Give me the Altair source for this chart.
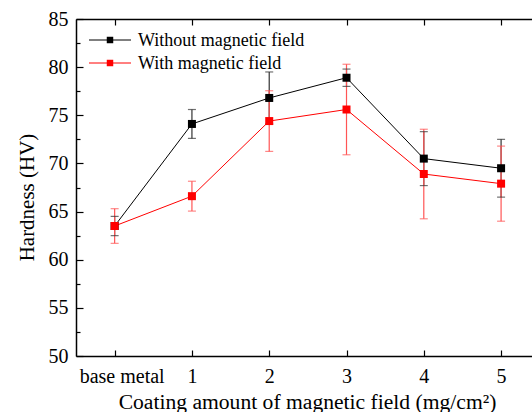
import altair as alt
import pandas as pd

categories = [0, 1, 2, 3, 4, 5]
tick_labels = ["base metal", "1", "2", "3", "4", "5"]
series_names = ["Without magnetic field", "With magnetic field"]
without_vals = [63.5, 74.1, 76.8, 78.9, 70.5, 69.5]
without_err = [1.0, 1.5, 2.7, 0.9, 2.8, 3.0]
with_vals = [63.5, 66.6, 74.4, 75.6, 68.9, 67.9]
with_err = [1.8, 1.55, 3.15, 4.7, 4.65, 3.9]
colors = ["#000000", "#ff0000"]
err_colors = ["#333333", "#ff5555"]

rows = []
for name, vals, errs, ec in [(series_names[0], without_vals, without_err, err_colors[0]),
                             (series_names[1], with_vals, with_err, err_colors[1])]:
    for c, v, e in zip(categories, vals, errs):
        rows.append({"x": c, "y": v, "lo": v - e, "hi": v + e, "series": name, "ecol": ec})
df = pd.DataFrame(rows)
legend_df = pd.DataFrame({"series": series_names})

W, H = 456, 337
FONT = "Liberation Serif"

xscale = alt.Scale(domain=[-0.5, 5.4], nice=False, zero=False)
yscale = alt.Scale(domain=[50, 85], nice=False, zero=False)
cscale = alt.Scale(domain=series_names, range=colors)

label_expr = "[" + ",".join("'" + t + "'" for t in tick_labels) + "][datum.value]"

x_main = alt.X("x:Q", scale=xscale, axis=alt.Axis(
    values=categories, labelExpr=label_expr, ticks=False, labelPadding=10,
    labelOffset={"condition": {"test": "datum.value === 0", "value": 7}, "value": 0},
    domainColor="black", domainWidth=1.5, labelFontSize=20, labelColor="black",
    labelFont=FONT, grid=False,
    title="Coating amount of magnetic field (mg/cm\u00b2)", titleFontSize=21.6,
    titleFont=FONT, titleFontWeight="normal", titleColor="black",
    titleBaseline="alphabetic", titleY=52, titleX=231))
y_main = alt.Y("y:Q", scale=yscale, axis=alt.Axis(
    values=[50, 55, 60, 65, 70, 75, 80, 85], ticks=False, labelPadding=8,
    domainColor="black", domainWidth=1.5, labelFontSize=20, labelColor="black",
    labelFont=FONT, grid=False,
    title="Hardness (HV)", titleFontSize=21, titleFont=FONT, titleFontWeight="normal",
    titleColor="black", titleBaseline="alphabetic", titleX=-43, titleY=178,
    titleAngle=-90))

base = alt.Chart(df)
col = alt.Color("series:N", scale=cscale, legend=None)

lines = base.mark_line(strokeWidth=1).encode(x=x_main, y=y_main, color=col)

xn = alt.X("x:Q", scale=xscale, axis=None)
yn = alt.Y("y:Q", scale=yscale, axis=None)

errs = base.mark_rule(strokeWidth=1.2).encode(
    x=xn, y=alt.Y("lo:Q", scale=yscale, axis=None), y2="hi:Q",
    color=alt.Color("ecol:N", scale=None))
cap_lo = base.mark_tick(orient="horizontal", size=8, thickness=1.2).encode(
    x=xn, y=alt.Y("lo:Q", scale=yscale, axis=None),
    color=alt.Color("ecol:N", scale=None))
cap_hi = base.mark_tick(orient="horizontal", size=8, thickness=1.2).encode(
    x=xn, y=alt.Y("hi:Q", scale=yscale, axis=None),
    color=alt.Color("ecol:N", scale=None))

points = base.mark_point(shape="square", filled=True, size=64, opacity=1).encode(
    x=xn, y=yn, color=col)

# inner tick marks: at top frame (pointing down) and on the left (pointing right)
ticks_a = base.mark_point(opacity=0).encode(
    x=alt.X("x:Q", scale=xscale, axis=alt.Axis(
        orient="bottom", offset=-H, values=categories, labels=False, tickSize=6,
        tickColor="black", tickWidth=1.2, domainColor="black", domainWidth=1.5,
        grid=False, title=None)),
    y=alt.Y("y:Q", scale=yscale, axis=alt.Axis(
        orient="right", offset=-W, values=[50 + 2.5 * i for i in range(15)],
        labels=False, domain=False, tickColor="black", tickWidth=1.2,
        tickSize={"condition": {"test": "datum.value % 5 === 0", "value": 7}, "value": 4},
        grid=False, title=None)),
)
# inner ticks on the bottom axis (pointing up)
ticks_b = base.mark_point(opacity=0).encode(
    x=alt.X("x:Q", scale=xscale, axis=alt.Axis(
        orient="top", offset=-H, values=categories, labels=False, tickSize=6,
        tickColor="black", tickWidth=1.2, domain=False, grid=False, title=None)),
    y=yn,
)

# legend (drawn as marks, one row per series)
leg_layers = []
for i, name in enumerate(series_names):
    ly = 21 + 23 * i
    lb = alt.Chart(legend_df).transform_filter(alt.datum.series == name)
    leg_layers.append(lb.mark_rule(strokeWidth=1).encode(
        x=alt.value(13), x2=alt.value(55), y=alt.value(ly), color=col))
    leg_layers.append(lb.mark_point(shape="square", filled=True, size=42, opacity=1).encode(
        x=alt.value(34), y=alt.value(ly), color=col))
    leg_layers.append(lb.mark_text(align="left", baseline="alphabetic", fontSize=18,
                                   font=FONT, color="black").encode(
        x=alt.value(62), y=alt.value(ly + 6), text="series:N"))

chart = alt.layer(ticks_a, ticks_b, lines, errs, cap_lo, cap_hi, points, *leg_layers).resolve_axis(
    x="independent", y="independent"
).properties(
    width=W, height=H,
    autosize=alt.AutoSizeParams(type="none"),
    padding={"left": 76, "top": 19, "right": 0, "bottom": 56},
).configure_view(stroke=None).configure(font=FONT, background="white")

chart.save("out.html", embed_options={"renderer": "svg", "actions": False})
